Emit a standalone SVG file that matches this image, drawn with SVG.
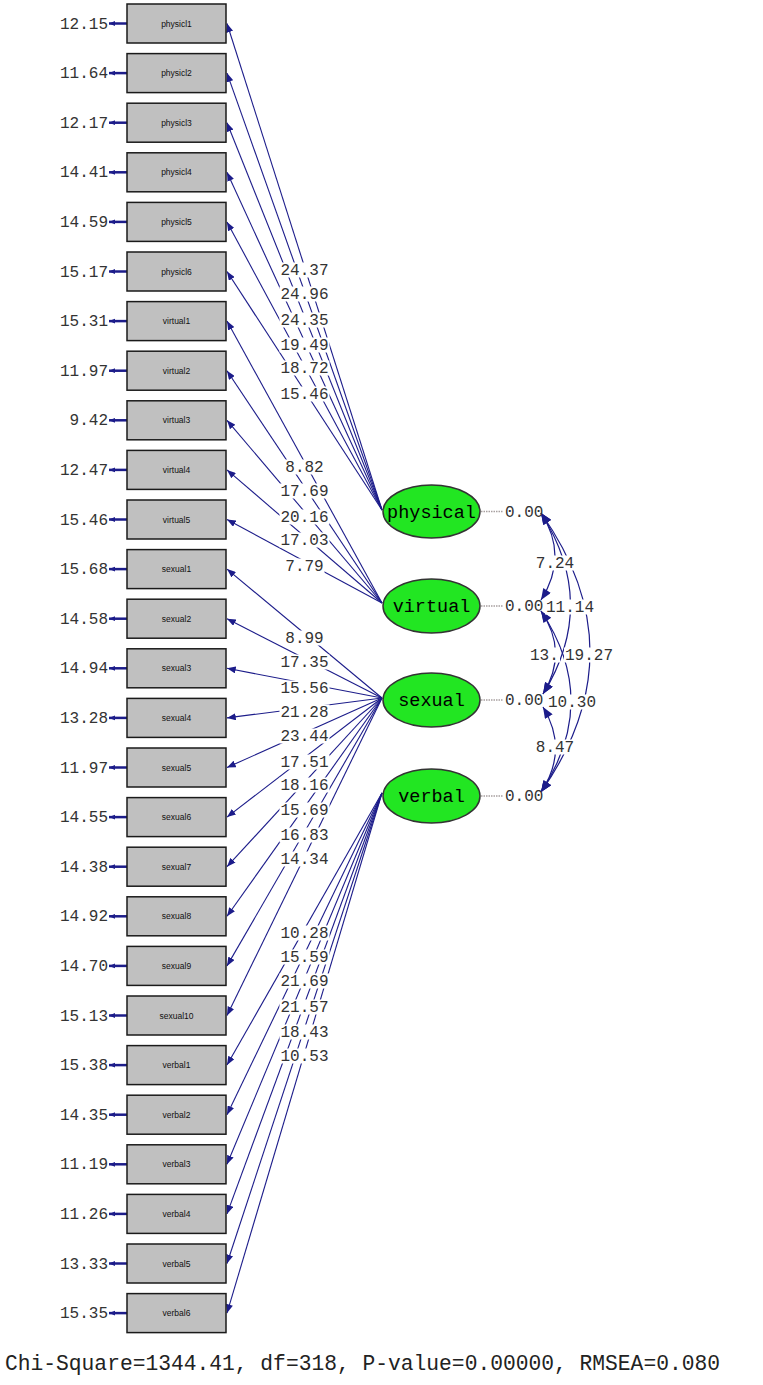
<svg xmlns="http://www.w3.org/2000/svg" width="763" height="1385" viewBox="0 0 763 1385">
<style>
.box{fill:#c0c0c0;stroke:#1a1a1a;stroke-width:1.5}
.bt{font-family:"Liberation Sans",Arial,sans-serif;font-size:8.5px;fill:#111;text-anchor:middle}
.ell{fill:#22e622;stroke:#333;stroke-width:1.5}
.et{font-family:"Liberation Mono","Courier New",monospace;font-size:18.5px;fill:#000;text-anchor:middle}
.lbl{font-family:"Liberation Mono","Courier New",monospace;font-size:16px;fill:#333}
.mid{text-anchor:middle}
.end{text-anchor:end}
.bg{fill:#fff}
.ld{stroke:#1c1c8a;stroke-width:1.1;fill:none;marker-end:url(#ah)}
.arc{stroke:#1c1c8a;stroke-width:1.2;fill:none;marker-start:url(#ahc);marker-end:url(#ahc)}
.err{stroke:#1c1c8a;stroke-width:2.5;marker-end:url(#ahe)}
.dot{stroke:#a8a0a0;stroke-width:1.5;stroke-dasharray:1.5,1}
</style>
<defs>
<marker id="ah" viewBox="0 0 10 8" refX="10" refY="4" markerWidth="9" markerHeight="7" markerUnits="userSpaceOnUse" orient="auto"><path d="M0,0 L10,4 L0,8 z" fill="#1c1c8a"/></marker>
<marker id="ahc" viewBox="0 0 10 8" refX="10" refY="4" markerWidth="12" markerHeight="9" markerUnits="userSpaceOnUse" orient="auto-start-reverse"><path d="M0,0 L10,4 L0,8 z" fill="#1c1c8a"/></marker>
<marker id="ahe" viewBox="0 0 10 8" refX="10" refY="4" markerWidth="6" markerHeight="6" markerUnits="userSpaceOnUse" orient="auto"><path d="M0,0 L10,4 L0,8 z" fill="#1c1c8a"/></marker>
</defs>
<rect width="763" height="1385" fill="#fff"/>

<g id="connectors">
<line class="ld" x1="382" y1="510" x2="227" y2="23.5"/>
<line class="ld" x1="382" y1="510" x2="227" y2="73.1"/>
<line class="ld" x1="382" y1="510" x2="227" y2="122.7"/>
<line class="ld" x1="382" y1="510" x2="227" y2="172.3"/>
<line class="ld" x1="382" y1="510" x2="227" y2="221.9"/>
<line class="ld" x1="382" y1="510" x2="227" y2="271.5"/>
<line class="ld" x1="382" y1="603" x2="227" y2="321.1"/>
<line class="ld" x1="382" y1="603" x2="227" y2="370.7"/>
<line class="ld" x1="382" y1="603" x2="227" y2="420.3"/>
<line class="ld" x1="382" y1="603" x2="227" y2="469.9"/>
<line class="ld" x1="382" y1="603" x2="227" y2="519.5"/>
<line class="ld" x1="382" y1="698" x2="227" y2="569.1"/>
<line class="ld" x1="382" y1="698" x2="227" y2="618.7"/>
<line class="ld" x1="382" y1="698" x2="227" y2="668.3"/>
<line class="ld" x1="382" y1="698" x2="227" y2="717.9"/>
<line class="ld" x1="382" y1="698" x2="227" y2="767.5"/>
<line class="ld" x1="382" y1="698" x2="227" y2="817.1"/>
<line class="ld" x1="382" y1="698" x2="227" y2="866.7"/>
<line class="ld" x1="382" y1="698" x2="227" y2="916.3"/>
<line class="ld" x1="382" y1="698" x2="227" y2="965.9"/>
<line class="ld" x1="382" y1="698" x2="227" y2="1015.5"/>
<line class="ld" x1="382" y1="793" x2="227" y2="1065.1"/>
<line class="ld" x1="382" y1="793" x2="227" y2="1114.7"/>
<line class="ld" x1="382" y1="793" x2="227" y2="1164.3"/>
<line class="ld" x1="382" y1="793" x2="227" y2="1213.9"/>
<line class="ld" x1="382" y1="793" x2="227" y2="1263.5"/>
<line class="ld" x1="382" y1="793" x2="227" y2="1313.1"/>

<path class="arc" d="M541,513 Q569,556 541,600"/>
<path class="arc" d="M541,513 Q599,604 543,694"/>
<path class="arc" d="M541,513 Q639,652 541,792"/>
<path class="arc" d="M541,611 Q569,652 543,694"/>
<path class="arc" d="M541,611 Q601,701 541,792"/>
<path class="arc" d="M543,707 Q569,750 541,792"/>

<line class="dot" x1="481" y1="511.5" x2="503" y2="511.5"/>
<line class="dot" x1="481" y1="606" x2="503" y2="606"/>
<line class="dot" x1="481" y1="700" x2="503" y2="700"/>
<line class="dot" x1="481" y1="796" x2="503" y2="796"/>

<line class="err" x1="127" y1="23.5" x2="109" y2="23.5"/>
<line class="err" x1="127" y1="73.1" x2="109" y2="73.1"/>
<line class="err" x1="127" y1="122.7" x2="109" y2="122.7"/>
<line class="err" x1="127" y1="172.3" x2="109" y2="172.3"/>
<line class="err" x1="127" y1="221.9" x2="109" y2="221.9"/>
<line class="err" x1="127" y1="271.5" x2="109" y2="271.5"/>
<line class="err" x1="127" y1="321.1" x2="109" y2="321.1"/>
<line class="err" x1="127" y1="370.7" x2="109" y2="370.7"/>
<line class="err" x1="127" y1="420.3" x2="109" y2="420.3"/>
<line class="err" x1="127" y1="469.9" x2="109" y2="469.9"/>
<line class="err" x1="127" y1="519.5" x2="109" y2="519.5"/>
<line class="err" x1="127" y1="569.1" x2="109" y2="569.1"/>
<line class="err" x1="127" y1="618.7" x2="109" y2="618.7"/>
<line class="err" x1="127" y1="668.3" x2="109" y2="668.3"/>
<line class="err" x1="127" y1="717.9" x2="109" y2="717.9"/>
<line class="err" x1="127" y1="767.5" x2="109" y2="767.5"/>
<line class="err" x1="127" y1="817.1" x2="109" y2="817.1"/>
<line class="err" x1="127" y1="866.7" x2="109" y2="866.7"/>
<line class="err" x1="127" y1="916.3" x2="109" y2="916.3"/>
<line class="err" x1="127" y1="965.9" x2="109" y2="965.9"/>
<line class="err" x1="127" y1="1015.5" x2="109" y2="1015.5"/>
<line class="err" x1="127" y1="1065.1" x2="109" y2="1065.1"/>
<line class="err" x1="127" y1="1114.7" x2="109" y2="1114.7"/>
<line class="err" x1="127" y1="1164.3" x2="109" y2="1164.3"/>
<line class="err" x1="127" y1="1213.9" x2="109" y2="1213.9"/>
<line class="err" x1="127" y1="1263.5" x2="109" y2="1263.5"/>
<line class="err" x1="127" y1="1313.1" x2="109" y2="1313.1"/>

<g class="lbl mid">
<rect class="bg" x="279.5" y="262.5" width="50" height="15"/><text x="304.5" y="275">24.37</text>
<rect class="bg" x="279.5" y="286.5" width="50" height="15"/><text x="304.5" y="299">24.96</text>
<rect class="bg" x="279.5" y="312.5" width="50" height="15"/><text x="304.5" y="325">24.35</text>
<rect class="bg" x="279.5" y="337.5" width="50" height="15"/><text x="304.5" y="350">19.49</text>
<rect class="bg" x="279.5" y="360.5" width="50" height="15"/><text x="304.5" y="373">18.72</text>
<rect class="bg" x="279.5" y="386.5" width="50" height="15"/><text x="304.5" y="399">15.46</text>

<rect class="bg" x="284.5" y="459.5" width="40" height="15"/><text x="304.5" y="472">8.82</text>
<rect class="bg" x="279.5" y="483.5" width="50" height="15"/><text x="304.5" y="496">17.69</text>
<rect class="bg" x="279.5" y="509.5" width="50" height="15"/><text x="304.5" y="522">20.16</text>
<rect class="bg" x="279.5" y="532.5" width="50" height="15"/><text x="304.5" y="545">17.03</text>
<rect class="bg" x="284.5" y="558.5" width="40" height="15"/><text x="304.5" y="571">7.79</text>

<rect class="bg" x="284.5" y="630.5" width="40" height="15"/><text x="304.5" y="643">8.99</text>
<rect class="bg" x="279.5" y="654.5" width="50" height="15"/><text x="304.5" y="667">17.35</text>
<rect class="bg" x="279.5" y="680.5" width="50" height="15"/><text x="304.5" y="693">15.56</text>
<rect class="bg" x="279.5" y="704.5" width="50" height="15"/><text x="304.5" y="717">21.28</text>
<rect class="bg" x="279.5" y="728.5" width="50" height="15"/><text x="304.5" y="741">23.44</text>
<rect class="bg" x="279.5" y="754.5" width="50" height="15"/><text x="304.5" y="767">17.51</text>
<rect class="bg" x="279.5" y="777.5" width="50" height="15"/><text x="304.5" y="790">18.16</text>
<rect class="bg" x="279.5" y="802.5" width="50" height="15"/><text x="304.5" y="815">15.69</text>
<rect class="bg" x="279.5" y="827.5" width="50" height="15"/><text x="304.5" y="840">16.83</text>
<rect class="bg" x="279.5" y="851.5" width="50" height="15"/><text x="304.5" y="864">14.34</text>

<rect class="bg" x="279.5" y="925.5" width="50" height="15"/><text x="304.5" y="938">10.28</text>
<rect class="bg" x="279.5" y="949.5" width="50" height="15"/><text x="304.5" y="962">15.59</text>
<rect class="bg" x="279.5" y="973.5" width="50" height="15"/><text x="304.5" y="986">21.69</text>
<rect class="bg" x="279.5" y="999.5" width="50" height="15"/><text x="304.5" y="1012">21.57</text>
<rect class="bg" x="279.5" y="1024.5" width="50" height="15"/><text x="304.5" y="1037">18.43</text>
<rect class="bg" x="279.5" y="1048.5" width="50" height="15"/><text x="304.5" y="1061">10.53</text>
</g>

<g class="lbl">
<rect class="bg" x="535" y="555.5" width="40" height="15"/><text class="mid" x="555" y="568">7.24</text>
<rect class="bg" x="545" y="599.5" width="50" height="15"/><text class="mid" x="570" y="612">11.14</text>
<rect class="bg" x="529" y="647.5" width="31" height="15"/><text x="530" y="660">13.</text>
<rect class="bg" x="564" y="647.5" width="50" height="15"/><text class="mid" x="589" y="660">19.27</text>
<rect class="bg" x="547" y="694.5" width="50" height="15"/><text class="mid" x="572" y="707">10.30</text>
<rect class="bg" x="535" y="739.5" width="40" height="15"/><text class="mid" x="555" y="752">8.47</text>
<text x="505" y="517">0.00</text>
<text x="505" y="611">0.00</text>
<text x="505" y="705">0.00</text>
<text x="505" y="801">0.00</text>
</g>
</g>

<g id="physical"><ellipse class="ell" cx="431.5" cy="511.5" rx="48.5" ry="26.5"/><text class="et" x="431.5" y="517.5">physical</text></g>
<g id="virtual"><ellipse class="ell" cx="431.5" cy="606" rx="48.5" ry="27"/><text class="et" x="431.5" y="612">virtual</text></g>
<g id="sexual"><ellipse class="ell" cx="431.5" cy="700" rx="48.5" ry="27"/><text class="et" x="431.5" y="706">sexual</text></g>
<g id="verbal"><ellipse class="ell" cx="431.5" cy="796" rx="48.5" ry="27"/><text class="et" x="431.5" y="802">verbal</text></g>

<g id="physicl1"><rect class="box" x="127" y="4" width="99" height="39"/><text class="bt" x="176.5" y="26.5">physicl1</text><text class="lbl end" x="108" y="28.5">12.15</text></g>
<g id="physicl2"><rect class="box" x="127" y="53.6" width="99" height="39"/><text class="bt" x="176.5" y="76.1">physicl2</text><text class="lbl end" x="108" y="78.1">11.64</text></g>
<g id="physicl3"><rect class="box" x="127" y="103.2" width="99" height="39"/><text class="bt" x="176.5" y="125.7">physicl3</text><text class="lbl end" x="108" y="127.7">12.17</text></g>
<g id="physicl4"><rect class="box" x="127" y="152.8" width="99" height="39"/><text class="bt" x="176.5" y="175.3">physicl4</text><text class="lbl end" x="108" y="177.3">14.41</text></g>
<g id="physicl5"><rect class="box" x="127" y="202.4" width="99" height="39"/><text class="bt" x="176.5" y="224.9">physicl5</text><text class="lbl end" x="108" y="226.9">14.59</text></g>
<g id="physicl6"><rect class="box" x="127" y="252" width="99" height="39"/><text class="bt" x="176.5" y="274.5">physicl6</text><text class="lbl end" x="108" y="276.5">15.17</text></g>
<g id="virtual1"><rect class="box" x="127" y="301.6" width="99" height="39"/><text class="bt" x="176.5" y="324.1">virtual1</text><text class="lbl end" x="108" y="326.1">15.31</text></g>
<g id="virtual2"><rect class="box" x="127" y="351.2" width="99" height="39"/><text class="bt" x="176.5" y="373.7">virtual2</text><text class="lbl end" x="108" y="375.7">11.97</text></g>
<g id="virtual3"><rect class="box" x="127" y="400.8" width="99" height="39"/><text class="bt" x="176.5" y="423.3">virtual3</text><text class="lbl end" x="108" y="425.3">9.42</text></g>
<g id="virtual4"><rect class="box" x="127" y="450.4" width="99" height="39"/><text class="bt" x="176.5" y="472.9">virtual4</text><text class="lbl end" x="108" y="474.9">12.47</text></g>
<g id="virtual5"><rect class="box" x="127" y="500" width="99" height="39"/><text class="bt" x="176.5" y="522.5">virtual5</text><text class="lbl end" x="108" y="524.5">15.46</text></g>
<g id="sexual1"><rect class="box" x="127" y="549.6" width="99" height="39"/><text class="bt" x="176.5" y="572.1">sexual1</text><text class="lbl end" x="108" y="574.1">15.68</text></g>
<g id="sexual2"><rect class="box" x="127" y="599.2" width="99" height="39"/><text class="bt" x="176.5" y="621.7">sexual2</text><text class="lbl end" x="108" y="623.7">14.58</text></g>
<g id="sexual3"><rect class="box" x="127" y="648.8" width="99" height="39"/><text class="bt" x="176.5" y="671.3">sexual3</text><text class="lbl end" x="108" y="673.3">14.94</text></g>
<g id="sexual4"><rect class="box" x="127" y="698.4" width="99" height="39"/><text class="bt" x="176.5" y="720.9">sexual4</text><text class="lbl end" x="108" y="722.9">13.28</text></g>
<g id="sexual5"><rect class="box" x="127" y="748" width="99" height="39"/><text class="bt" x="176.5" y="770.5">sexual5</text><text class="lbl end" x="108" y="772.5">11.97</text></g>
<g id="sexual6"><rect class="box" x="127" y="797.6" width="99" height="39"/><text class="bt" x="176.5" y="820.1">sexual6</text><text class="lbl end" x="108" y="822.1">14.55</text></g>
<g id="sexual7"><rect class="box" x="127" y="847.2" width="99" height="39"/><text class="bt" x="176.5" y="869.7">sexual7</text><text class="lbl end" x="108" y="871.7">14.38</text></g>
<g id="sexual8"><rect class="box" x="127" y="896.8" width="99" height="39"/><text class="bt" x="176.5" y="919.3">sexual8</text><text class="lbl end" x="108" y="921.3">14.92</text></g>
<g id="sexual9"><rect class="box" x="127" y="946.4" width="99" height="39"/><text class="bt" x="176.5" y="968.9">sexual9</text><text class="lbl end" x="108" y="970.9">14.70</text></g>
<g id="sexual10"><rect class="box" x="127" y="996" width="99" height="39"/><text class="bt" x="176.5" y="1018.5">sexual10</text><text class="lbl end" x="108" y="1020.5">15.13</text></g>
<g id="verbal1"><rect class="box" x="127" y="1045.6" width="99" height="39"/><text class="bt" x="176.5" y="1068.1">verbal1</text><text class="lbl end" x="108" y="1070.1">15.38</text></g>
<g id="verbal2"><rect class="box" x="127" y="1095.2" width="99" height="39"/><text class="bt" x="176.5" y="1117.7">verbal2</text><text class="lbl end" x="108" y="1119.7">14.35</text></g>
<g id="verbal3"><rect class="box" x="127" y="1144.8" width="99" height="39"/><text class="bt" x="176.5" y="1167.3">verbal3</text><text class="lbl end" x="108" y="1169.3">11.19</text></g>
<g id="verbal4"><rect class="box" x="127" y="1194.4" width="99" height="39"/><text class="bt" x="176.5" y="1216.9">verbal4</text><text class="lbl end" x="108" y="1218.9">11.26</text></g>
<g id="verbal5"><rect class="box" x="127" y="1244" width="99" height="39"/><text class="bt" x="176.5" y="1266.5">verbal5</text><text class="lbl end" x="108" y="1268.5">13.33</text></g>
<g id="verbal6"><rect class="box" x="127" y="1293.6" width="99" height="39"/><text class="bt" x="176.5" y="1316.1">verbal6</text><text class="lbl end" x="108" y="1318.1">15.35</text></g>

<text x="5" y="1370" font-family="'Liberation Mono','Courier New',monospace" font-size="21.3" fill="#222" textLength="715" lengthAdjust="spacingAndGlyphs">Chi-Square=1344.41, df=318, P-value=0.00000, RMSEA=0.080</text>
</svg>
